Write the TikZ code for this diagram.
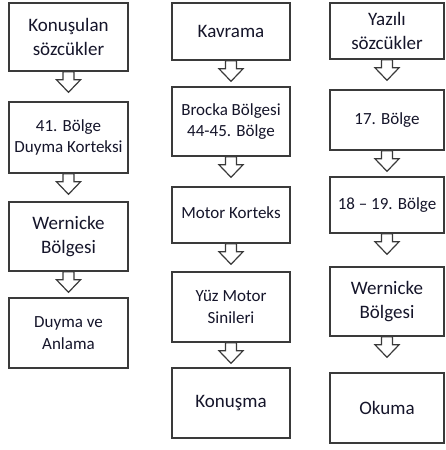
\documentclass[tikz,border=0pt]{standalone}
\usepackage{fontspec}
\setmainfont{Carlito}
\usetikzlibrary{calc,shadows}

\definecolor{edge}{HTML}{3A3A3A}
\definecolor{ink}{HTML}{15152A}

\tikzset{
  box/.style={draw=edge, line width=1.6pt, fill=white, text=ink,
    align=center, inner sep=2pt,
    drop shadow={opacity=0.25, shadow xshift=1.2pt, shadow yshift=-1.2pt}},
  big/.style={font=\fontsize{19}{23.5}\selectfont},
  small/.style={font=\fontsize{17}{21.5}\selectfont},
  % hollow block arrow hanging below the start box, pointing down
  blockarrow/.style={draw=edge, line width=1.2pt, fill=white, line join=miter,
    to path={let \p1=(\tikztostart) in
      (\x1-5.5pt,\y1) -- (\x1+5.5pt,\y1) -- (\x1+5.5pt,\y1-8pt)
      -- (\x1+12pt,\y1-8pt) -- (\x1,\y1-20.5pt) -- (\x1-12pt,\y1-8pt)
      -- (\x1-5.5pt,\y1-8pt) -- cycle}},
}

\begin{document}
\begin{tikzpicture}[x=1pt, y=-1pt]
\useasboundingbox (0,0) rectangle (446,450);

% left column: hearing
\node[box, big,   minimum width=119pt, minimum height=68pt] (a1) at (68.5,37)  {Konuşulan\\sözcükler};
\node[box, small, minimum width=119pt, minimum height=71pt] (a2) at (68.5,137.5) {41. Bölge\\Duyma Korteksi};
\node[box, big,   minimum width=119pt, minimum height=69pt] (a3) at (68.5,236.5) {Wernicke\\Bölgesi};
\node[box, small, minimum width=119pt, minimum height=70pt] (a4) at (68.5,333) {Duyma ve\\Anlama};

% middle column: speaking
\node[box, big,   minimum width=118pt, minimum height=57pt] (b1) at (231,31.5)  {Kavrama};
\node[box, small, minimum width=118pt, minimum height=69pt] (b2) at (231,121.5) {Brocka Bölgesi\\44-45. Bölge};
\node[box, small, minimum width=118pt, minimum height=56pt] (b3) at (231,215)   {\raisebox{4pt}{Motor Korteks}};
\node[box, small, minimum width=118pt, minimum height=70pt] (b4) at (231,307)   {Yüz Motor\\Sinileri};
\node[box, big,   minimum width=118pt, minimum height=70pt] (b5) at (231,403)   {Konuşma};

% right column: reading
\node[box, big,   minimum width=114pt, minimum height=56pt] (c1) at (387,31)    {Yazılı\\sözcükler};
\node[box, small, minimum width=114pt, minimum height=60pt] (c2) at (387,120)   {17. Bölge};
\node[box, small, minimum width=114pt, minimum height=56pt] (c3) at (387,205)   {18 -- 19. Bölge};
\node[box, big,   minimum width=114pt, minimum height=69pt] (c4) at (387,301.5) {Wernicke\\Bölgesi};
\node[box, big,   minimum width=114pt, minimum height=70pt] (c5) at (387,408)   {Okuma};

% downward block arrows
\foreach \u/\v in {a1/a2,a2/a3,a3/a4,b1/b2,b2/b3,b3/b4,b4/b5,c1/c2,c2/c3,c3/c4,c4/c5}
  \draw[blockarrow] (\u.south) to (\v.north);
\end{tikzpicture}
\end{document}
